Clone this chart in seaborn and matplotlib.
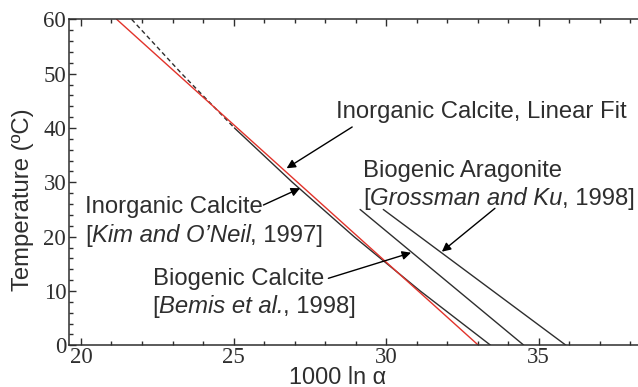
import matplotlib
matplotlib.use("Agg")
import matplotlib.pyplot as plt
from matplotlib.ticker import MultipleLocator
import seaborn as sns
import pandas as pd

# Oxygen-isotope fractionation vs. temperature
temp_fit = [60, 0]
alpha_fit = [21.17, 33.03]                      # inorganic calcite, linear fit

temp_kim = [60, 50, 40, 30, 20, 10, 0]
alpha_kim = [21.66, 23.30, 25.03, 26.93, 28.95, 31.12, 33.43]   # Kim and O'Neil, 1997

temp_bemis = [25, 0]
alpha_bemis = [29.15, 34.52]                    # Bemis et al., 1998

temp_gk = [25, 0]
alpha_gk = [29.91, 35.90]                       # Grossman and Ku, 1998

x_ticks = [20, 25, 30, 35]
y_ticks = [0, 10, 20, 30, 40, 50, 60]

sns.set_style("ticks")
plt.rcParams["font.family"] = ["Liberation Sans", "DejaVu Sans"]

INK = "#2e2e2e"
RED = "#e2332b"

fig = plt.figure(figsize=(6.38, 3.87), dpi=100)
ax = fig.add_axes([69 / 638, 1 - 345.3 / 387, 1 - 69 / 638, 326 / 387])

kim = pd.DataFrame({"alpha": alpha_kim, "temp": temp_kim})
kim_ext = kim[kim["temp"] >= 40]
kim_meas = kim[kim["temp"] <= 40]

lw = 1.0
sns.lineplot(data=kim_ext, x="alpha", y="temp", sort=False, ax=ax,
             color=INK, lw=lw, linestyle=(0, (3.2, 2.2)))
sns.lineplot(data=kim_meas, x="alpha", y="temp", sort=False, ax=ax,
             color=INK, lw=lw)
sns.lineplot(x=alpha_bemis, y=temp_bemis, sort=False, ax=ax, color=INK, lw=lw)
sns.lineplot(x=alpha_gk, y=temp_gk, sort=False, ax=ax, color=INK, lw=lw)
sns.lineplot(x=alpha_fit, y=temp_fit, sort=False, ax=ax, color=RED, lw=lw)

ax.set_xlim(19.607, 38.26)
ax.set_ylim(0, 60)

ax.set_xticks(x_ticks)
ax.set_xticklabels([str(v) for v in x_ticks], fontfamily="Liberation Serif")
ax.set_yticks(y_ticks)
ax.set_yticklabels([str(v) for v in y_ticks], fontfamily="Liberation Serif")
ax.xaxis.set_minor_locator(MultipleLocator(1))
ax.yaxis.set_minor_locator(MultipleLocator(2))
ax.tick_params(which="both", direction="in", top=True, right=False,
               color=INK, width=1.0, labelcolor=INK, labelsize=16.5)
ax.tick_params(which="major", length=5)
ax.tick_params(which="minor", length=3)
ax.tick_params(axis="x", pad=1.0)
ax.tick_params(axis="y", pad=2)

for side in ["left", "bottom", "top"]:
    ax.spines[side].set_color(INK)
    ax.spines[side].set_linewidth(1.1)
ax.spines["right"].set_visible(False)

fs = 17.2

ax.set_xlabel("")
ax.set_ylabel("")
fig.text(23 / 638, 1 - 200 / 387, "Temperature (ºC)", rotation=90,
         ha="center", va="center", fontsize=fs, color=INK)
fig.text(338 / 638, 1 - 383.5 / 387, "1000 ln α", ha="center", va="baseline",
         fontsize=16.8, color=INK)

arrow = dict(arrowstyle="-|>", color="black", lw=1.0, mutation_scale=13,
             shrinkA=0, shrinkB=0)


def citation(x, y, authors, year):
    """Write "[Authors, year]" with the author names in italics."""
    t1 = ax.text(x, y, "[", fontsize=fs, color=INK, va="baseline", ha="left")
    t2 = ax.annotate(authors, xy=(1, y), xycoords=(t1, "data"), fontsize=fs,
                     color=INK, va="baseline", ha="left", style="italic")
    ax.annotate(f", {year}]", xy=(1, y), xycoords=(t2, "data"), fontsize=fs,
                color=INK, va="baseline", ha="left")


ax.text(28.36, 41.78, "Inorganic Calcite, Linear Fit", fontsize=fs,
        color=INK, va="baseline", ha="left")
ax.annotate("", xy=(26.74, 32.58), xytext=(28.89, 40.18), arrowprops=arrow)

ax.text(20.13, 24.29, "Inorganic Calcite", fontsize=fs, color=INK,
        va="baseline", ha="left")
citation(20.13, 19.07, "Kim and O\u2019Neil", 1997)
ax.annotate("", xy=(27.18, 28.90), xytext=(25.98, 25.82), arrowprops=arrow)

ax.text(22.37, 11.10, "Biogenic Calcite", fontsize=fs, color=INK,
        va="baseline", ha="left")
citation(22.33, 5.89, "Bemis et al.", 1998)
ax.annotate("", xy=(30.82, 17.04), xytext=(28.11, 12.33), arrowprops=arrow)

ax.text(29.24, 31.03, "Biogenic Aragonite", fontsize=fs, color=INK,
        va="baseline", ha="left")
citation(29.26, 25.82, "Grossman and Ku", 1998)
ax.annotate("", xy=(31.83, 17.23), xytext=(33.57, 25.21), arrowprops=arrow)

fig.savefig("out.png", dpi=100)
